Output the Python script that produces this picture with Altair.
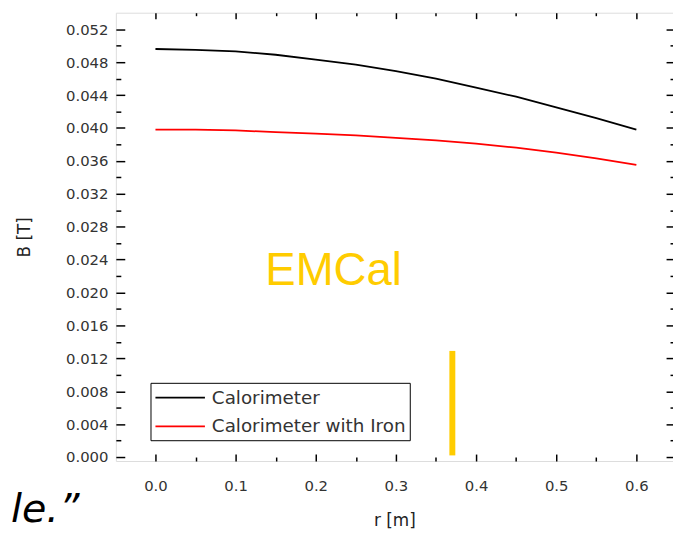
import altair as alt
import pandas as pd

# ---- data ----
r_vals = [0.0, 0.05, 0.1, 0.15, 0.2, 0.25, 0.3, 0.35, 0.4, 0.45, 0.5, 0.55, 0.6]
b_calorimeter = [0.0496, 0.0495, 0.0493, 0.0489, 0.0483, 0.0477, 0.0469,
                 0.0460, 0.0449, 0.0438, 0.0425, 0.0412, 0.0398]
b_with_iron = [0.0398, 0.0398, 0.0397, 0.0395, 0.0393, 0.0391, 0.0388,
               0.0385, 0.0381, 0.0376, 0.0370, 0.0363, 0.0355]
series_names = ["Calorimeter", "Calorimeter with Iron"]
series_colors = ["#000000", "#ff0000"]

y_label_values = [0.000, 0.004, 0.008, 0.012, 0.016, 0.020, 0.024, 0.028,
                  0.032, 0.036, 0.040, 0.044, 0.048, 0.052]
y_tick_values = [0.000, 0.002, 0.004, 0.006, 0.008, 0.010, 0.012, 0.014,
                 0.016, 0.018, 0.020, 0.022, 0.024, 0.026, 0.028, 0.030,
                 0.032, 0.034, 0.036, 0.038, 0.040, 0.042, 0.044, 0.046,
                 0.048, 0.050, 0.052]
x_label_values = [0.0, 0.1, 0.2, 0.3, 0.4, 0.5, 0.6]
x_tick_values = [0.0, 0.05, 0.1, 0.15, 0.2, 0.25, 0.3, 0.35, 0.4, 0.45,
                 0.5, 0.55, 0.6]

emcal_label = "EMCal"
emcal_pos = [0.2222, 0.0209]          # r, B of the label
marker_r = [0.3704]                   # vertical EMCal marker
marker_b = [0.0129, 0.0002]
corner_text = "le.\u201d"

X_DOMAIN = [-0.0494, 0.6457]
Y_DOMAIN = [-0.00048, 0.05401]
W, H = 563, 453
GOLD = "#FFCC00"
FONT = "DejaVu Sans"

# ---- tables ----
df = pd.DataFrame({
    "r": r_vals * 2,
    "B": b_calorimeter + b_with_iron,
    "series": [series_names[0]] * len(r_vals) + [series_names[1]] * len(r_vals),
})
emcal_df = pd.DataFrame({"r": [emcal_pos[0]], "B": [emcal_pos[1]], "t": [emcal_label]})
marker_df = pd.DataFrame({"r": marker_r, "B0": [marker_b[0]], "B1": [marker_b[1]]})

xs = alt.Scale(domain=X_DOMAIN, nice=False, zero=False)
ys = alt.Scale(domain=Y_DOMAIN, nice=False, zero=False)


def tick_axis(orient, offset, values, test, major, minor):
    return alt.Axis(orient=orient, offset=offset, values=values, labels=False,
                    domain=False, grid=False, title=None, ticks=True,
                    tickColor="black", tickWidth=1.5,
                    tickSize={"condition": {"test": test, "value": major}, "value": minor})


x_test = "abs(round(datum.value*100)) % 10 == 0"
y_test = "abs(round(datum.value*1000)) % 4 == 0"

lines = alt.Chart(df).mark_line(strokeWidth=1.8).encode(
    x=alt.X("r:Q", scale=xs, axis=alt.Axis(
        orient="bottom", values=x_label_values, format=".1f", ticks=False,
        domain=False, grid=False, labelPadding=18, labelFont=FONT,
        labelFontSize=15, labelColor="#333333", title="r [m]",
        titleFont=FONT, titleFontSize=17, titleFontWeight="normal",
        titleColor="#222222", titlePadding=19)),
    y=alt.Y("B:Q", scale=ys, axis=alt.Axis(
        orient="left", values=y_label_values, format=".3f", ticks=False,
        domain=False, grid=False, labelPadding=8, labelFont=FONT,
        labelFontSize=15, labelColor="#333333", title="B [T]",
        titleFont=FONT, titleFontSize=17, titleFontWeight="normal",
        titleColor="#222222", titleX=-92, titleY=H / 2,
        titleAlign="center", titleBaseline="middle")),
    color=alt.Color("series:N", scale=alt.Scale(domain=series_names, range=series_colors),
                    legend=alt.Legend(
                        orient="none", legendX=35, legendY=374, title=None,
                        symbolType="M-1,0H4", symbolSize=400, symbolStrokeWidth=1.6,
                        labelFont=FONT, labelFontSize=18.5, labelColor="#333333",
                        labelOffset=36, labelLimit=400, padding=4, rowPadding=8,
                        strokeColor="black", fillColor="white")),
)

ticks_a = alt.Chart(df).mark_point(opacity=0).encode(
    x=alt.X("r:Q", scale=xs, axis=tick_axis("top", -H, x_tick_values, x_test, 7, 4)),
    y=alt.Y("B:Q", scale=ys, axis=tick_axis("right", -W, y_tick_values, y_test, 9, 5)),
)
ticks_b = alt.Chart(df).mark_point(opacity=0).encode(
    x=alt.X("r:Q", scale=xs, axis=tick_axis("bottom", -H, x_tick_values, x_test, 6, 3)),
    y=alt.Y("B:Q", scale=ys, axis=tick_axis("left", -W, y_tick_values, y_test, 7, 3)),
)

emcal = alt.Chart(emcal_df).mark_text(
    font="Liberation Sans", fontSize=46, color=GOLD, align="center",
    baseline="alphabetic").encode(
    x=alt.X("r:Q", scale=xs, axis=None),
    y=alt.Y("B:Q", scale=ys, axis=None),
    text="t:N")

marker = alt.Chart(marker_df).mark_rule(strokeWidth=6, color=GOLD).encode(
    x=alt.X("r:Q", scale=xs, axis=None),
    y=alt.Y("B0:Q", scale=ys, axis=None),
    y2="B1:Q")

corner = alt.Chart(emcal_df).mark_text(
    text=corner_text, font=FONT, fontSize=40, fontStyle="italic",
    color="black", align="left", baseline="alphabetic").encode(
    x=alt.value(-106), y=alt.value(515))

chart = alt.layer(lines, ticks_a, ticks_b, emcal, marker, corner).resolve_axis(
    x="independent", y="independent"
).properties(
    width=W, height=H,
    autosize=alt.AutoSizeParams(type="none"),
    padding={"left": 109, "top": 2, "right": 0, "bottom": 70},
).configure_view(stroke="black", strokeWidth=2).configure(background="white")

chart.save("out.html", embed_options={"renderer": "svg", "actions": False})
